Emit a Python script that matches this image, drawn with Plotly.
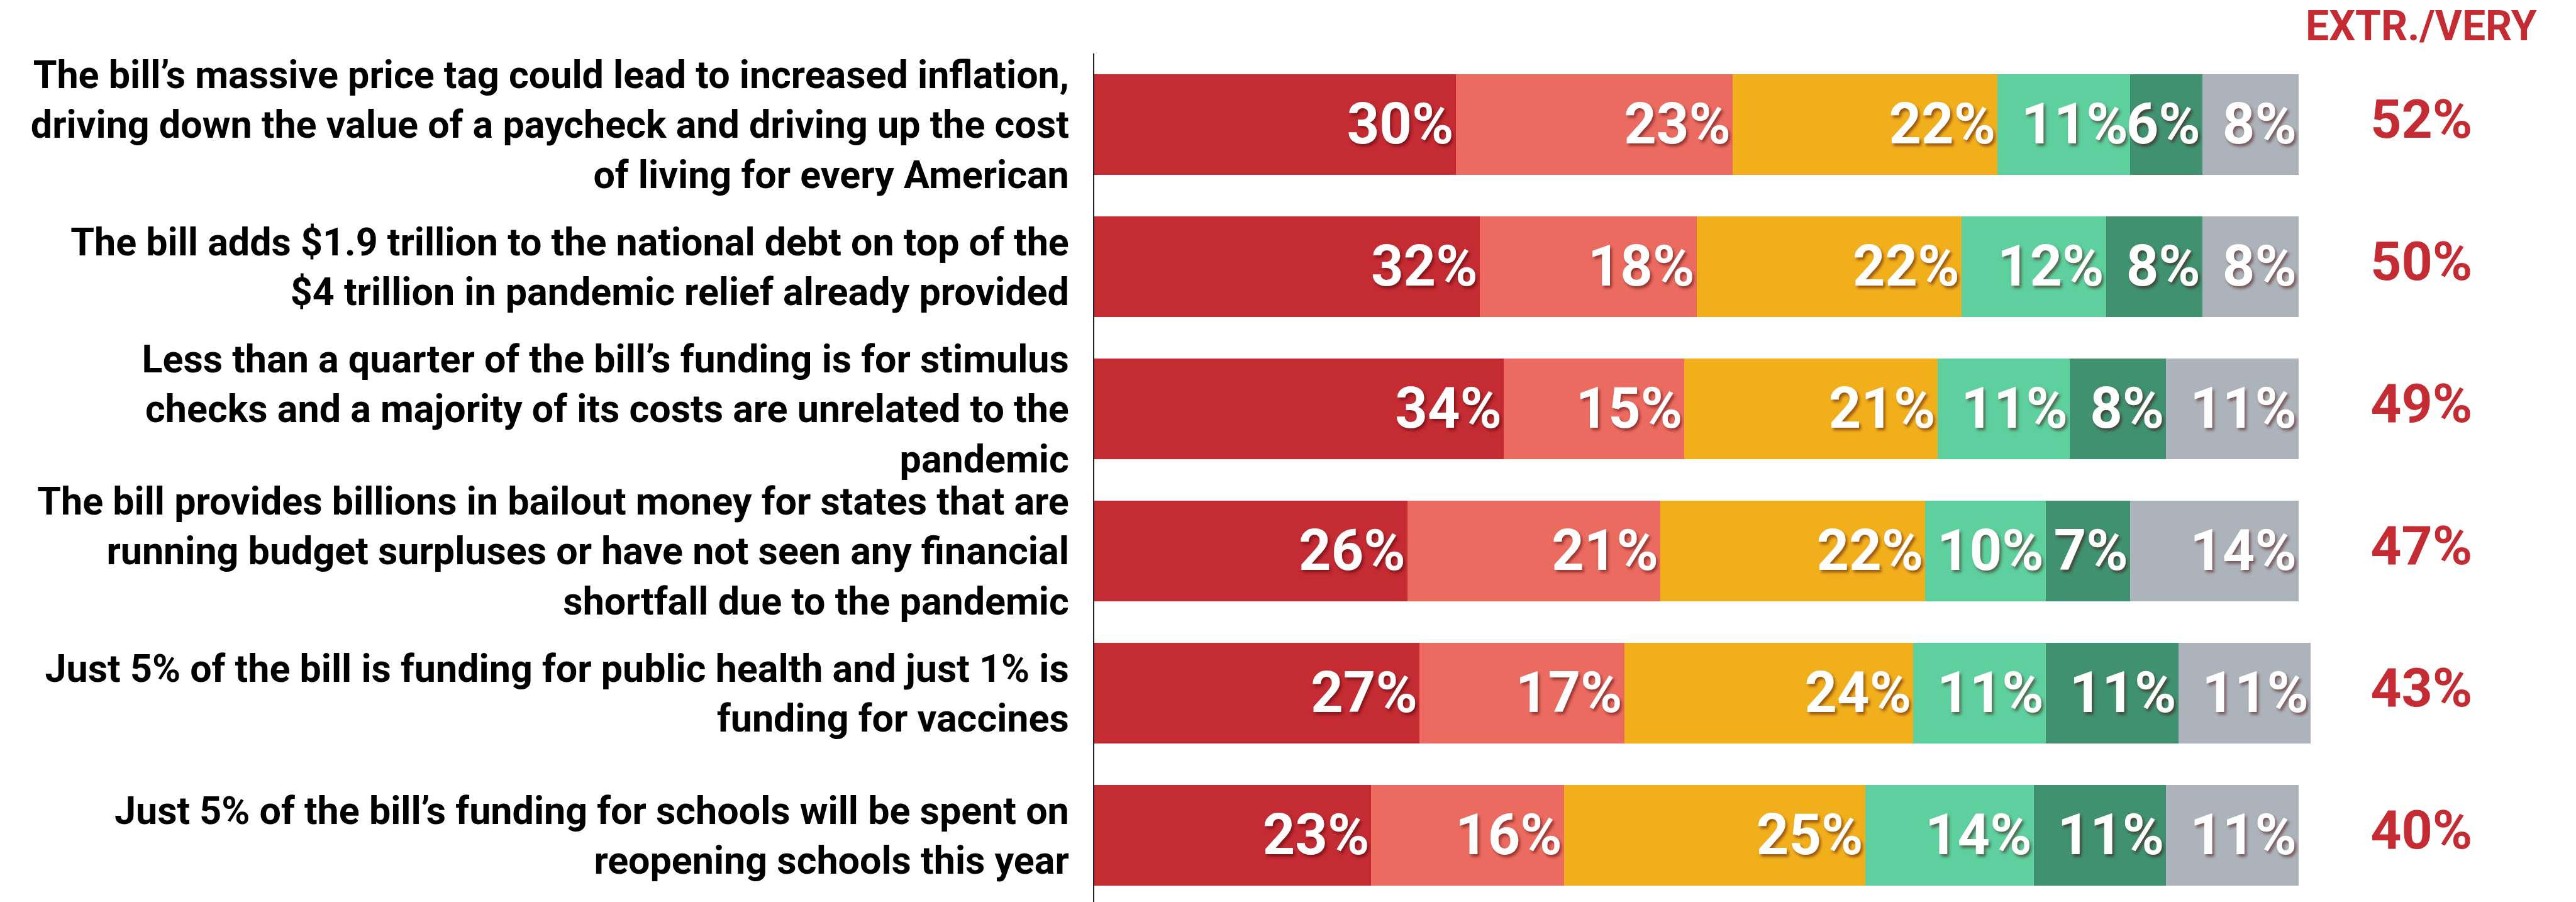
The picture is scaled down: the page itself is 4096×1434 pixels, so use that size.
import plotly.graph_objects as go

statements = [
    "The bill’s massive price tag could lead to increased inflation,<br>driving down the value of a paycheck and driving up the cost<br>of living for every American",
    "The bill adds $1.9 trillion to the national debt on top of the<br>$4 trillion in pandemic relief already provided",
    "Less than a quarter of the bill’s funding is for stimulus<br>checks and a majority of its costs are unrelated to the<br>pandemic",
    "The bill provides billions in bailout money for states that are<br>running budget surpluses or have not seen any financial<br>shortfall due to the pandemic",
    "Just 5% of the bill is funding for public health and just 1% is<br>funding for vaccines",
    "Just 5% of the bill’s funding for schools will be spent on<br>reopening schools this year",
]

series_names = ["Extremely convincing", "Very convincing", "Somewhat convincing",
                "Not too convincing", "Not at all convincing", "Don't know"]
extremely = [30, 32, 34, 26, 27, 23]
very = [23, 18, 15, 21, 17, 16]
somewhat = [22, 22, 21, 22, 24, 25]
not_too = [11, 12, 11, 10, 11, 14]
not_at_all = [6, 8, 8, 7, 11, 11]
dont_know = [8, 8, 11, 14, 11, 11]
extr_very = [52, 50, 49, 47, 43, 40]
header = "EXTR./VERY"

series = [extremely, very, somewhat, not_too, not_at_all, dont_know]
colors = ["#C52B33", "#EC6B60", "#F2AF1C", "#5DD09D", "#3F9170", "#ADB3BA"]

FONT = "Roboto, Liberation Sans, sans-serif"
RED = "#C52B33"

fig = go.Figure()
for name, vals, col in zip(series_names, series, colors):
    fig.add_trace(go.Bar(
        name=name, y=statements, x=vals, orientation="h",
        marker=dict(color=col, line=dict(width=0)),
        text=[f"{v}%" for v in vals],
        textposition="inside", insidetextanchor="end", textangle=0,
        textfont=dict(family=FONT, size=90, color="white", weight="bold",
                      shadow="3px 4px 4px rgba(70,0,0,0.5)"),
        width=0.708,
        hoverinfo="skip",
    ))

fig.add_trace(go.Scatter(
    y=statements, x=[110.2] * len(statements), mode="text",
    text=[f"{v}%" for v in extr_very],
    textposition="middle center",
    textfont=dict(family=FONT, size=86, color=RED, weight="bold"),
    hoverinfo="skip", showlegend=False,
))

fig.add_annotation(
    x=110.2, xref="x", y=1.032, yref="paper",
    text=header, showarrow=False, xanchor="center", yanchor="middle",
    font=dict(family=FONT, size=66, color=RED, weight="bold"),
)

fig.update_layout(
    width=4096, height=1434,
    barmode="stack",
    showlegend=False,
    paper_bgcolor="white", plot_bgcolor="white",
    margin=dict(l=1740, r=58, t=85, b=0, pad=0, autoexpand=False),
    uniformtext=dict(minsize=90, mode="show"),
    xaxis=dict(range=[0, 120], visible=False, showgrid=False, zeroline=False,
               automargin=False),
    yaxis=dict(
        type="category", range=[5.47, -0.5], automargin=False,
        showgrid=False, zeroline=False,
        showline=True, linecolor="#222222", linewidth=2,
        ticks="", ticklabelstandoff=26,
        tickfont=dict(family=FONT, size=61, color="#000000", weight="bold"),
    ),
)

fig.write_html("out.html")
